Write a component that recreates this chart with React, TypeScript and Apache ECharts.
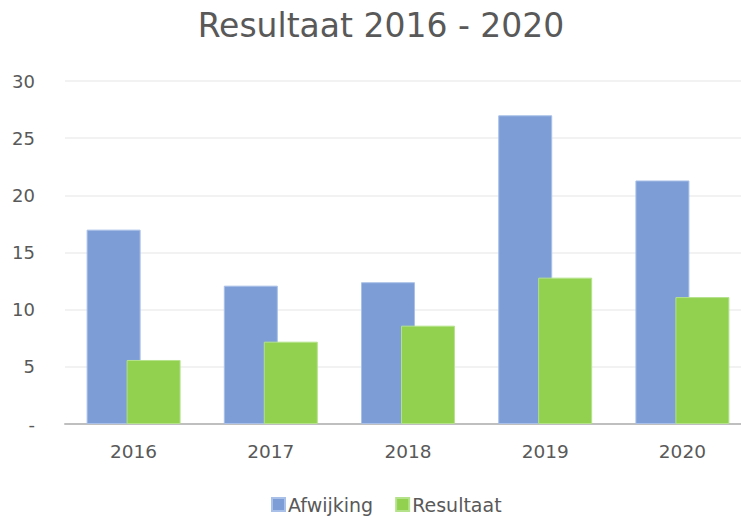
import React, { useEffect, useRef } from "react";
import * as echarts from "echarts";

const categories = ["2016", "2017", "2018", "2019", "2020"];
const afwijking = [17.0, 12.1, 12.4, 27.0, 21.3];
const resultaat = [5.6, 7.2, 8.6, 12.8, 11.1];
const yTicks = [0, 5, 10, 15, 20, 25, 30];

const FONT = "'DejaVu Sans', 'Open Sans', sans-serif";
const TEXT = "#595959";

export default function App() {
  const ref = useRef<HTMLDivElement>(null);
  useEffect(() => {
    if (!ref.current) return;
    const chart = echarts.init(ref.current, undefined, { renderer: "svg" });
    chart.setOption({
      animation: false,
      backgroundColor: "#ffffff",
      title: {
        text: "Resultaat 2016 - 2020",
        left: 376,
        textAlign: "center",
        top: 4,
        textStyle: { fontFamily: FONT, fontSize: 33, fontWeight: "normal", color: TEXT },
      },
      legend: {
        bottom: 0,
        left: 266,
        itemWidth: 13,
        itemHeight: 13,
        itemGap: 22,
        icon: "rect",
        textStyle: { fontFamily: FONT, fontSize: 19, color: TEXT, padding: [0, 0, 0, -2] },
        data: ["Afwijking", "Resultaat"],
      },
      grid: { left: 65, right: 0, top: 81, bottom: 95, containLabel: false },
      xAxis: {
        type: "category",
        data: categories,
        axisLine: { lineStyle: { color: "#bfbfbf", width: 2 } },
        axisTick: { show: false },
        axisLabel: { fontFamily: FONT, fontSize: 18.5, color: TEXT, margin: 18 },
      },
      yAxis: {
        type: "value",
        min: yTicks[0],
        max: yTicks[yTicks.length - 1],
        interval: 5,
        axisLine: { show: false },
        axisTick: { show: false },
        splitLine: { lineStyle: { color: "#eeeeee", width: 1.5 } },
        axisLabel: {
          fontFamily: FONT,
          fontSize: 18,
          color: TEXT,
          margin: 30,
          formatter: (v: number) => (v === 0 ? "-" : String(v)),
        },
      },
      series: [
        {
          name: "Afwijking",
          type: "bar",
          data: afwijking,
          barWidth: 54,
          barGap: "-26%",
          itemStyle: { color: "#7c9dd5", borderColor: "#a9c0e8", borderWidth: 1 },
        },
        {
          name: "Resultaat",
          type: "bar",
          data: resultaat,
          barWidth: 54,
          itemStyle: { color: "#92d050", borderColor: "#b4e28a", borderWidth: 1 },
        },
      ],
    });
    return () => chart.dispose();
  }, []);
  return (
    <div
      style={{ position: "absolute", left: 0, top: 0, width: 741, height: 519, overflow: "hidden" }}
    >
      <div ref={ref} style={{ width: 751, height: 519 }} />
    </div>
  );
}
